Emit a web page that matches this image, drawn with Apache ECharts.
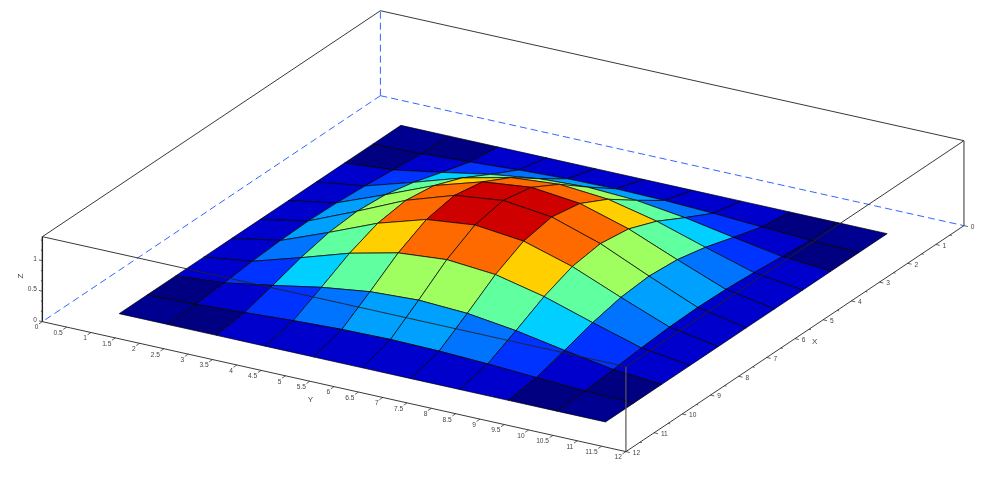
<!DOCTYPE html>
<html><head><meta charset="utf-8">
<style>html,body{margin:0;padding:0;background:#fff}#c{width:990px;height:482px}</style>
<script src="https://cdn.jsdelivr.net/npm/echarts@6/dist/echarts.min.js"></script>
</head><body><div id="c"></div>
<script>
const gridX = [1,2,3,4,5,6,7,8,9,10,11];
const gridY = [1,2,3,4,5,6,7,8,9,10,11];
// surface height, rows = X, columns = Y
const zValues = [
 [0,0,0,0,0,0,0,0,0,0,0],
 [0,0.02,0.064,0.11,0.143,0.156,0.143,0.11,0.064,0.02,0],
 [0,0.064,0.201,0.347,0.453,0.492,0.453,0.347,0.201,0.064,0],
 [0,0.11,0.347,0.597,0.78,0.847,0.78,0.597,0.347,0.11,0],
 [0,0.143,0.453,0.78,1.019,1.106,1.019,0.78,0.453,0.143,0],
 [0,0.156,0.492,0.847,1.106,1.2,1.106,0.847,0.492,0.156,0],
 [0,0.143,0.453,0.78,1.019,1.106,1.019,0.78,0.453,0.143,0],
 [0,0.11,0.347,0.597,0.78,0.847,0.78,0.597,0.347,0.11,0],
 [0,0.064,0.201,0.347,0.453,0.492,0.453,0.347,0.201,0.064,0],
 [0,0.02,0.064,0.11,0.143,0.156,0.143,0.11,0.064,0.02,0],
 [0,0,0,0,0,0,0,0,0,0,0]
];
const colorLevels = [0.012,0.03,0.12,0.22,0.29,0.34,0.45,0.6,0.72,0.87,1.0];
const colorRamp = ['#000090','#000080','#0000CC','#0033FF','#0073FF','#00A0FF','#00CFFF','#60FFA0','#A0FF60','#FFCF00','#FF6A00','#CF0000'];
const xTicks = [0,1,2,3,4,5,6,7,8,9,10,11,12];
const xMinor = [0.5,1.5,2.5,3.5,4.5,5.5,6.5,7.5,8.5,9.5,10.5,11.5];
const yTicks = [0,0.5,1,1.5,2,2.5,3,3.5,4,4.5,5,5.5,6,6.5,7,7.5,8,8.5,9,9.5,10,10.5,11,11.5,12];
const zTicks = [0,0.5,1];
const zMinor = [0.167,0.333,0.667,0.833,1.167,1.333];
const X0 = 0, X1 = 12, Y0 = 0, Y1 = 12, Z0 = 0, Z1 = 1.393;
const hiddenEdges = [[[X0,Y0,Z0],[X1,Y0,Z0]],[[X0,Y0,Z0],[X0,Y1,Z0]],[[X0,Y0,Z0],[X0,Y0,Z1]]];
const boxEdges = [
 [[X1,Y0,Z0],[X1,Y1,Z0]],[[X1,Y1,Z0],[X0,Y1,Z0]],
 [[X1,Y0,Z1],[X1,Y1,Z1]],[[X1,Y1,Z1],[X0,Y1,Z1]],[[X0,Y1,Z1],[X0,Y0,Z1]],[[X0,Y0,Z1],[X1,Y0,Z1]]
];
const uprightEdges = [[[X1,Y1,Z0],[X1,Y1,Z1]],[[X0,Y1,Z0],[X0,Y1,Z1]]];
const zAxisEdge = [[[X1,Y0,Z0],[X1,Y0,Z1]]];
// orthographic view: where the model's unit vectors land on the page plane
const view = {ox:380.4, oy:95.7, xx:-28.17, xy:18.83, yx:48.63, yy:10.83, zy:-61};
function proj(p){return [view.ox+view.xx*p[0]+view.yx*p[1], view.oy+view.xy*p[0]+view.yy*p[1]+view.zy*p[2]];}
function colorOf(v){let k=0;while(k<colorLevels.length&&v>=colorLevels[k])k++;return colorRamp[k];}

const cells=[];
for(let i=0;i<gridX.length-1;i++)for(let j=0;j<gridY.length-1;j++){
  const m=(zValues[i][j]+zValues[i+1][j]+zValues[i][j+1]+zValues[i+1][j+1])/4;
  cells.push({i,j,m,d:48.63*(gridX[i]+gridX[i+1])/2+28.17*(gridY[j]+gridY[j+1])/2});
}
cells.sort((a,b)=>a.d-b.d);

function pt(api,p){return api.coord(proj(p));}
function lineSeries(edges,style,z){
  return {type:'custom',coordinateSystem:'cartesian2d',silent:true,clip:false,z:z,animation:false,
    data:edges.map((e,k)=>[k,0]),
    renderItem(params,api){
      const e=edges[params.dataIndex],a=pt(api,e[0]),b=pt(api,e[1]);
      return {type:'line',shape:{x1:a[0],y1:a[1],x2:b[0],y2:b[1]},style:Object.assign({fill:null},style)};
    }};
}
function tickSegs(vals,f,len){return vals.map(v=>{const a=f(v);return [a,[a[0]+len[0],a[1]+len[1],a[2]+len[2]]];});}
function labelSeries(items,z){
  return {type:'custom',coordinateSystem:'cartesian2d',silent:true,clip:false,z:z,animation:false,
    data:items.map((e,k)=>[k,0]),
    renderItem(params,api){
      const it=items[params.dataIndex],a=pt(api,it.p);
      return {type:'text',x:a[0]+it.dx,y:a[1]+it.dy,rotation:it.rot||0,style:{text:it.t,font:it.font||'6.6px "Liberation Sans",Arial,sans-serif',fill:'#444',textAlign:it.align,textVerticalAlign:'middle'}};
    }};
}
const yAxisPt=v=>[X1,v,Z0], xAxisPt=v=>[v,Y1,Z0], zAxisPt=v=>[X1,Y0,v];
const tickStyle={stroke:'#222',lineWidth:0.7};
const nameFont='8px "Liberation Sans",Arial,sans-serif';
const labels=[
 ...yTicks.map(v=>({p:yAxisPt(v),t:String(v),dx:-4,dy:6,align:'right'})),
 ...xTicks.map(v=>({p:xAxisPt(v),t:String(v),dx:6.8,dy:1.5,align:'left'})),
 ...zTicks.map(v=>({p:zAxisPt(v),t:String(v),dx:-5.4,dy:-1.8,align:'right'})),
 {p:[X1,6,Z0],t:'Y',dx:-23.6,dy:13.3,align:'center',font:nameFont},
 {p:[6,Y1,Z0],t:'X',dx:19.7,dy:3.3,align:'center',font:nameFont},
 {p:[X1,Y0,0.7],t:'Z',dx:-21.8,dy:-3,align:'center',font:nameFont,rot:Math.PI/2}
];
const series=[
 lineSeries(hiddenEdges,{stroke:'#3366FF',lineWidth:1,lineDash:[7,4]},1),
 {type:'custom',coordinateSystem:'cartesian2d',silent:true,clip:false,z:2,animation:false,
  data:cells.map((c,k)=>[k,c.m]),
  renderItem(params,api){
    const c=cells[params.dataIndex],i=c.i,j=c.j;
    const pts=[[i,j],[i+1,j],[i+1,j+1],[i,j+1]].map(q=>pt(api,[gridX[q[0]],gridY[q[1]],zValues[q[0]][q[1]]]));
    return {type:'polygon',shape:{points:pts},style:{fill:colorOf(c.m),stroke:'#000',lineWidth:0.7}};
  }},
 lineSeries(boxEdges,{stroke:'#222',lineWidth:0.9},3),
 lineSeries(uprightEdges,{stroke:'#555',lineWidth:1.2},3),
 lineSeries(zAxisEdge,{stroke:'#222',lineWidth:1.4},3),
 lineSeries(tickSegs(yTicks,yAxisPt,[0.12,0,0]),tickStyle,4),
 lineSeries(tickSegs(xTicks,xAxisPt,[0,0.08,0]),tickStyle,4),
 lineSeries(tickSegs(xMinor,xAxisPt,[0,0.04,0]),tickStyle,4),
 lineSeries(tickSegs(zTicks,zAxisPt,[0,-0.07,0]),tickStyle,4),
 lineSeries(tickSegs(zMinor,zAxisPt,[0,-0.03,0]),tickStyle,4),
 labelSeries(labels,5)
];
const chart=echarts.init(document.getElementById('c'),null,{renderer:'canvas'});
chart.setOption({animation:false,backgroundColor:'#fff',
 grid:{left:0,right:0,top:0,bottom:0,containLabel:false},
 xAxis:{type:'value',min:0,max:990,show:false},
 yAxis:{type:'value',min:0,max:482,inverse:true,show:false},
 tooltip:{show:false},
 series});
</script></body></html>
